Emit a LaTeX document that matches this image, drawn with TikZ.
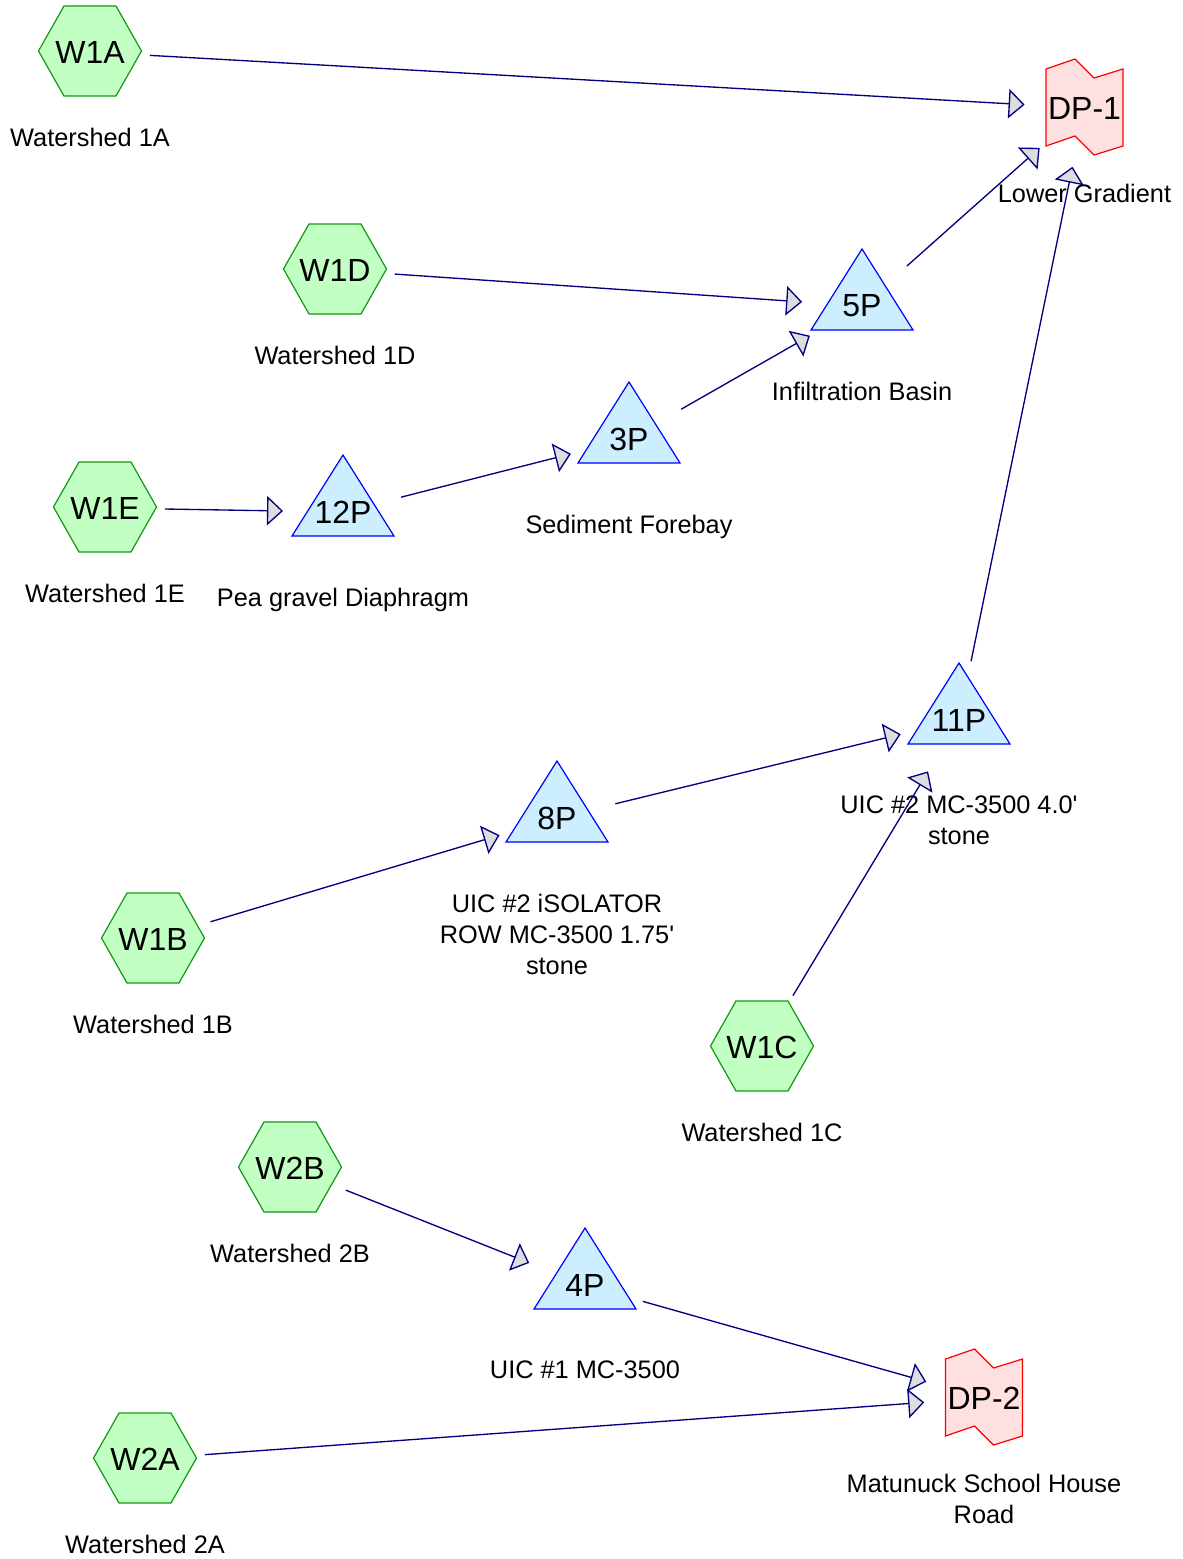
\documentclass[tikz,border=0pt]{standalone}
\usepackage{fontspec}
\setmainfont{Liberation Sans}
\usetikzlibrary{arrows.meta}
\definecolor{shedline}{HTML}{109A10}
\definecolor{shedfill}{HTML}{C2FFC2}
\definecolor{pondline}{HTML}{0000FF}
\definecolor{pondfill}{HTML}{CCEEFF}
\definecolor{reachline}{HTML}{FF0000}
\definecolor{reachfill}{HTML}{FFE0E0}
\definecolor{flowline}{HTML}{000080}
\definecolor{tipfill}{HTML}{DDDDDD}
\begin{document}
\begin{tikzpicture}[x=0.75pt,y=-0.75pt,
  hub/.style={circle,minimum size=90pt,inner sep=0pt,outer sep=0pt,font=\fontsize{24}{28}\selectfont},
  lab/.style={anchor=north,inner sep=0pt,align=center,font=\fontsize{19}{23.25}\selectfont},
  shed/.style={draw=shedline,fill=shedfill,line width=0.9pt},
  pond/.style={draw=pondline,fill=pondfill,line width=0.9pt},
  reach/.style={draw=reachline,fill=reachfill,line width=0.9pt},
  flow/.style={draw=flowline,line width=1pt,-{Triangle[length=12pt,width=22pt,fill=tipfill]}}]
  \useasboundingbox (0,0) rectangle (1182,1559);
  % watersheds
  \foreach \n/\x/\y/\t/\l in {w1a/90/51/W1A/Watershed 1A, w1d/335/269/W1D/Watershed 1D,
      w1e/105/507/W1E/Watershed 1E, w1b/153/938/W1B/Watershed 1B, w1c/762/1046/W1C/Watershed 1C,
      w2b/290/1167/W2B/Watershed 2B, w2a/145/1458/W2A/Watershed 2A} {
    \filldraw[shed,shift={(\x,\y)}] (-51.5,0) -- (-26,-45) -- (26,-45) -- (51.5,0) -- (26,45) -- (-26,45) -- cycle;
    \node[hub] (\n) at (\x,\y+1) {\t};
    \node[lab] (\n-lab) at (\x,\y+77) {\l};
  }
  % ponds
  \foreach \n/\x/\y/\t/\l in {p5/862/303/5P/Infiltration Basin, p3/629/436/3P/Sediment Forebay,
      p12/343/509/12P/Pea gravel Diaphragm, p11/959/717/11P/{UIC \#2 MC-3500 4.0\textquotesingle\\stone},
      p8/557/815/8P/{UIC \#2 iSOLATOR\\ROW MC-3500 1.75\textquotesingle\\stone}, p4/585/1282/4P/UIC \#1 MC-3500} {
    \filldraw[pond,shift={(\x,\y)}] (0,-54) -- (51,27) -- (-51,27) -- cycle;
    \node[hub] (\n) at (\x,\y+3) {\t};
    \node[lab] (\n-lab) at (\x,\y+79) {\l};
  }
  % design points
  \foreach \n/\x/\y/\t/\l in {dp1/1084.5/107/DP-1/Lower Gradient, dp2/984/1397/DP-2/{Matunuck School House\\Road}} {
    \filldraw[reach,shift={(\x,\y)}] (-38.5,-38) -- (-9.5,-48) -- (9.5,-29) -- (38.5,-38) -- (38.5,39)
      -- (9.5,48) -- (-9.5,29) -- (-38.5,39) -- cycle;
    \node[hub] (\n) at (\x,\y+1) {\t};
    \node[lab] (\n-lab) at (\x,\y+77) {\l};
  }
  % routing
  \foreach \a/\b in {w1a/dp1, w1d/p5, p5/dp1, p3/p5, w1e/p12, p12/p3, p11/dp1, p8/p11,
      w1c/p11, w1b/p8, w2b/p4, p4/dp2, w2a/dp2}
    \draw[flow] (\a) -- (\b);
\end{tikzpicture}
\end{document}
